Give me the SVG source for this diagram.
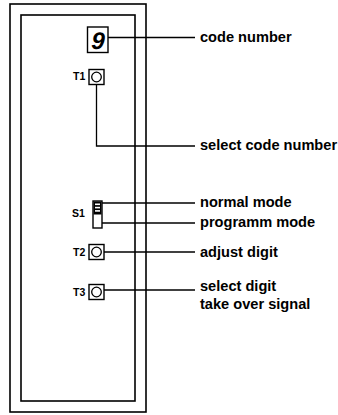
<svg xmlns="http://www.w3.org/2000/svg" width="338" height="415" viewBox="0 0 338 415">
<style>
.frame{fill:none;stroke:#000;stroke-width:1.6}
.ln{fill:none;stroke:#000;stroke-width:1.3}
.lbl{font-family:"Liberation Sans",Arial,sans-serif;font-weight:bold;font-size:14.6px;fill:#000}
.tag{font-family:"Liberation Sans",Arial,sans-serif;font-weight:bold;font-size:10.5px;fill:#000}
.box{fill:#fff;stroke:#000;stroke-width:1.4}
</style>
<rect width="338" height="415" fill="#fff"/>
<g id="housing">
<rect class="frame" x="10" y="4" width="136" height="408"/>
<rect class="frame" x="21" y="15" width="114" height="386"/>
</g>
<g id="connectors">
<line class="ln" x1="108" y1="37.5" x2="195" y2="37.5"/>
<polyline class="ln" points="96.5,85 96.5,146 195,146"/>
<line class="ln" x1="102" y1="203" x2="195" y2="203"/>
<line class="ln" x1="102" y1="223" x2="195" y2="223"/>
<line class="ln" x1="104" y1="252" x2="195" y2="252"/>
<line class="ln" x1="104" y1="290" x2="195" y2="290"/>
</g>
<g id="display">
<rect class="box" x="87.5" y="27" width="20.5" height="25.5"/>
<text x="97.8" y="49" text-anchor="middle" font-family="'Liberation Sans',Arial,sans-serif" font-weight="bold" font-style="italic" font-size="24" fill="#000" transform="skewX(-3) translate(2.5,0)">9</text>
</g>
<g id="T1">
<text class="tag" x="73" y="80">T1</text>
<rect class="box" x="89" y="69.5" width="15" height="15"/>
<circle cx="96.5" cy="77" r="4.8" fill="none" stroke="#000" stroke-width="1.3"/>
</g>
<g id="S1">
<text class="tag" x="72" y="217">S1</text>
<rect class="box" x="93" y="201" width="9" height="27"/>
<rect x="93.5" y="201.5" width="8" height="13" fill="#000"/>
<rect x="95" y="203.5" width="5" height="1.6" fill="#fff"/>
<rect x="95" y="206.8" width="5" height="1.6" fill="#fff"/>
<rect x="95" y="210.1" width="5" height="1.6" fill="#fff"/>
</g>
<g id="T2">
<text class="tag" x="73" y="256">T2</text>
<rect class="box" x="89" y="244.5" width="15" height="15"/>
<circle cx="96.5" cy="252" r="4.8" fill="none" stroke="#000" stroke-width="1.3"/>
</g>
<g id="T3">
<text class="tag" x="73" y="296">T3</text>
<rect class="box" x="89" y="284.5" width="15" height="15"/>
<circle cx="96.5" cy="292" r="4.8" fill="none" stroke="#000" stroke-width="1.3"/>
</g>
<g id="labels">
<text class="lbl" x="200" y="42">code number</text>
<text class="lbl" x="200" y="150">select code number</text>
<text class="lbl" x="200" y="207">normal mode</text>
<text class="lbl" x="200" y="227">programm mode</text>
<text class="lbl" x="200" y="257">adjust digit</text>
<text class="lbl" x="200" y="291">select digit</text>
<text class="lbl" x="200" y="309">take over signal</text>
</g>
</svg>
